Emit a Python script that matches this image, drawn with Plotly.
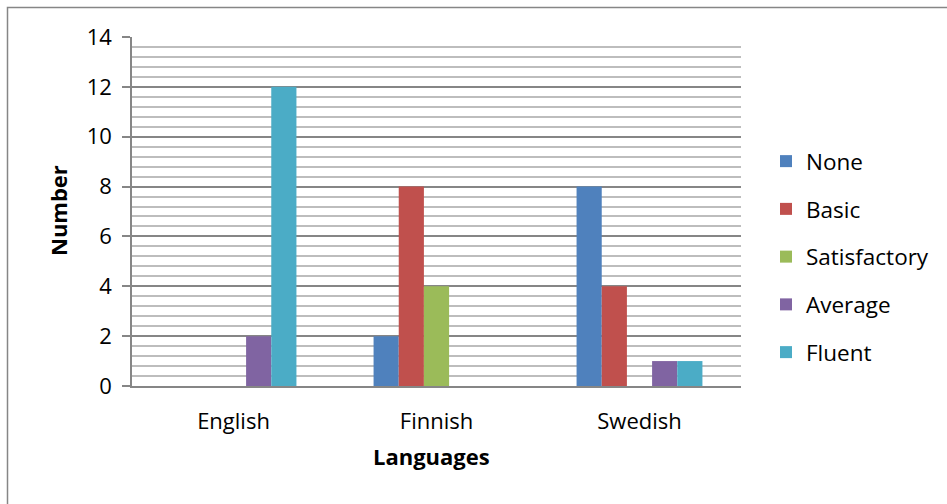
import plotly.graph_objects as go

categories = ["English", "Finnish", "Swedish"]
series_names = ["None", "Basic", "Satisfactory", "Average", "Fluent"]
none_vals = [0, 2, 8]
basic_vals = [0, 8, 4]
satisfactory_vals = [0, 4, 0]
average_vals = [2, 0, 1]
fluent_vals = [12, 0, 1]
colors = ["#4F81BD", "#C0504D", "#9BBB59", "#8064A2", "#4BACC6"]
y_ticks = [0, 2, 4, 6, 8, 10, 12, 14]

W, H = 947, 504
L, R, T, B = 132, 741, 37, 386

FONT = "Open Sans, sans-serif"
FS = 22

fig = go.Figure()
for i, (name, vals) in enumerate(zip(series_names,
        [none_vals, basic_vals, satisfactory_vals, average_vals, fluent_vals])):
    fig.add_trace(go.Bar(
        x=categories, y=vals, name=name,
        marker=dict(color=colors[i], line=dict(width=0)),
        legendgroup=name,
    ))

def px_x(p):
    return (p - L) / (R - L)

def px_y(p):
    return (B - p) / (B - T)

fig.update_layout(
    width=W, height=H,
    margin=dict(l=L, r=W - R, t=T, b=H - B, pad=0, autoexpand=False),
    paper_bgcolor="white", plot_bgcolor="white",
    barmode="group", bargap=0.38, bargroupgap=0,
    font=dict(family=FONT, size=FS, color="#000000"),
    showlegend=True,
    legend=dict(
        x=px_x(766), y=px_y(257), xanchor="left", yanchor="middle",
        font=dict(family=FONT, size=22.5, color="#000000"),
        tracegroupgap=15.5, itemwidth=30, bgcolor="rgba(0,0,0,0)",
    ),
    xaxis=dict(
        showline=True, linecolor="#868686", linewidth=1.5,
        ticks="", showgrid=False,
        tickfont=dict(family=FONT, size=FS),
        ticklabelstandoff=15,
        range=[-0.5, 2.5],
    ),
    yaxis=dict(
        range=[0, 14], tickvals=y_ticks, ticktext=[str(v) for v in y_ticks],
        showline=True, linecolor="#868686", linewidth=1.5,
        ticks="outside", ticklen=8, tickcolor="#868686", tickwidth=1.5,
        showgrid=True, gridcolor="#868686", gridwidth=1.5,
        minor=dict(dtick=0.4, showgrid=True, gridcolor="#BDBDBD", gridwidth=1.5, ticks=""),
        tickfont=dict(family=FONT, size=FS),
        ticklabelstandoff=6,
        zeroline=False,
    ),
    annotations=[
        dict(text="<b>Languages</b>", xref="paper", yref="paper",
             x=px_x(431), y=px_y(456), xanchor="center", yanchor="middle",
             showarrow=False, font=dict(family=FONT, size=FS)),
        dict(text="<b>Number</b>", xref="paper", yref="paper",
             x=px_x(58), y=px_y(211), xanchor="center", yanchor="middle",
             textangle=-90, showarrow=False, font=dict(family=FONT, size=FS)),
    ],
    shapes=[
        dict(type="rect", xref="paper", yref="paper",
             x0=px_x(7.5), x1=px_x(960), y0=px_y(7.5), y1=px_y(520),
             line=dict(color="#868686", width=1.5), fillcolor="rgba(0,0,0,0)",
             layer="below"),
    ],
)

fig.write_html("out.html")
